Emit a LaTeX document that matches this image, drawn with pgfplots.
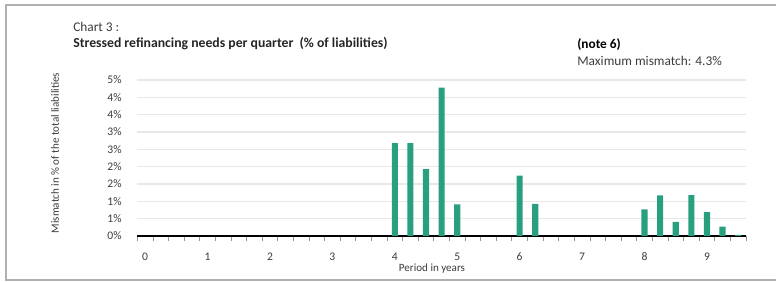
\documentclass[border=0pt]{standalone}
\usepackage{fontspec}
\setmainfont{Carlito}
\usepackage{pgfplots}
\pgfplotsset{compat=1.18}
\definecolor{barc}{RGB}{40,160,127}
\definecolor{gridc}{RGB}{232,232,232}
\definecolor{framec}{RGB}{175,175,175}
\definecolor{txt}{RGB}{60,60,60}
\definecolor{tickc}{RGB}{150,150,150}
\begin{document}
\begin{tikzpicture}[x=0.75pt,y=0.75pt]
\useasboundingbox (0,0) rectangle (776,282);
\draw[framec, line width=1pt] (800,277) -- (6,277) -- (6,2) -- (800,2);
\begin{axis}[
  at={(102.98pt,34.5pt)}, anchor=south west,
  scale only axis, width=456.5pt, height=117pt,
  xmin=-0.125, xmax=9.625, ymin=0, ymax=4.5,
  axis x line*=bottom, axis y line*=left,
  y axis line style={draw=none},
  x axis line style={black, line width=1pt},
  ytick={0,0.5,...,4.5},
  yticklabels={0\%,1\%,1\%,2\%,2\%,3\%,3\%,4\%,4\%,5\%},
  ymajorgrids, grid style={gridc, line width=0.8pt},
  xtick={0,...,9},
  /pgf/number format/assume math mode=true,
  major x tick style={draw=none},
  ytick style={draw=none},
  minor xtick={-0.125,0.125,...,9.7},
  minor x tick style={tickc, line width=0.6pt},
  minor tick length=3.5pt,
  tick align=outside,
  ticklabel style={font=\fontsize{8.7}{10}\selectfont, text=txt},
  yticklabel style={xshift=-4pt},
  xticklabel style={yshift=-5pt},
  ybar, bar width=4.6pt,
]
\addplot[fill=barc, draw=none] coordinates {
 (4,2.68) (4.25,2.68) (4.5,1.93) (4.75,4.28) (5,0.91)
 (6,1.74) (6.25,0.93)
 (8,0.77) (8.25,1.17) (8.5,0.41) (8.75,1.18) (9,0.69) (9.25,0.27) (9.5,0.03)
};
\end{axis}
\node[anchor=base west, text=txt, font=\fontsize{10}{12}\selectfont, inner sep=0pt] at (73,282-32) {Chart 3 :};
\node[anchor=base west, text=black!85, font=\fontsize{10.3}{12}\selectfont\bfseries, inner sep=0pt] at (73,282-48) {Stressed refinancing needs per quarter~ (\% of liabilities)};
\node[anchor=base west, text=black, font=\fontsize{10}{12}\selectfont\bfseries, inner sep=0pt] at (577,282-49) {(note 6)};
\node[anchor=base west, text=txt, font=\fontsize{10}{12}\selectfont, inner sep=0pt] at (577,282-66) {Maximum mismatch: 4.3\%};
\node[rotate=90, text=txt, font=\fontsize{8.3}{10}\selectfont, inner sep=0pt] at (55,282-153) {Mismatch in \% of the total liabilities};
\node[text=txt, font=\fontsize{8.3}{10}\selectfont, inner sep=0pt] at (432,282-269) {Period in years};
\end{tikzpicture}
\end{document}
